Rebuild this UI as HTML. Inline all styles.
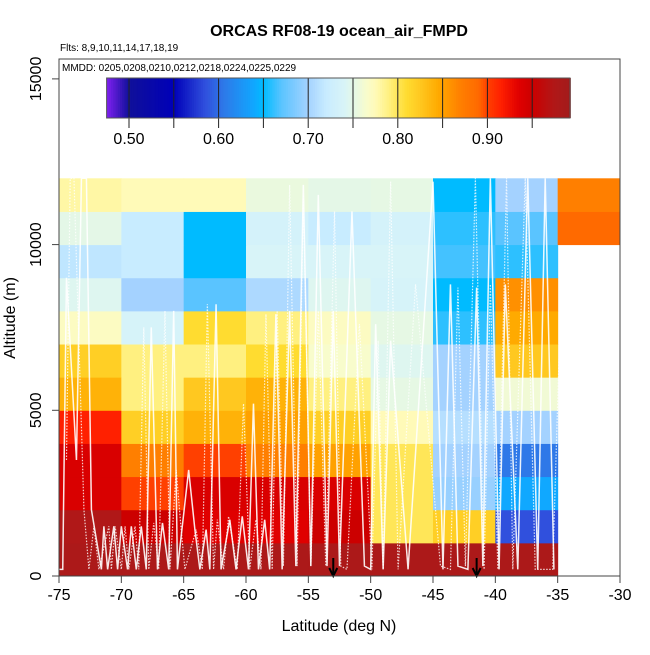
<!DOCTYPE html>
<html><head><meta charset="utf-8"><style>
body{margin:0;background:#fff}
svg text{font-family:"Liberation Sans",sans-serif}
</style></head><body>
<svg id="c" width="650" height="650" viewBox="0 0 650 650" xmlns="http://www.w3.org/2000/svg">
<text x="339" y="36" text-anchor="middle" font-size="16" font-weight="bold">ORCAS RF08-19 ocean_air_FMPD</text>
<text x="60" y="51" font-size="10">Flts: 8,9,10,11,14,17,18,19</text>
<g id="cells"></g>
<g id="tracks"></g>
<rect x="59" y="59" width="561" height="517" fill="none" stroke="#444" stroke-width="1"/>
<text x="62" y="71" font-size="10">MMDD: 0205,0208,0210,0212,0218,0224,0225,0229</text>
<g id="cbar"></g>
<g id="axes"></g>
<text x="339" y="631" text-anchor="middle" font-size="16">Latitude (deg N)</text>
<text transform="translate(15,318) rotate(-90)" text-anchor="middle" font-size="16">Altitude (m)</text>
</svg>
<script>
const lonBins=[-75,-70,-65,-60,-55,-50,-45,-40,-35];
const altBins=[0,1000,2000,3000,4000,5000,6000,7000,8000,9000,10000,11000];
const values=[
[0.98,0.98,0.98,0.98,0.98,0.98,0.98,0.98,null],
[0.975,0.95,0.935,0.935,0.95,0.80,0.82,0.585,null],
[0.94,0.90,0.94,0.94,0.94,0.80,0.695,0.64,null],
[0.94,0.87,0.90,0.87,0.85,0.80,0.70,0.605,null],
[0.915,0.82,0.84,0.85,0.82,0.775,0.71,0.70,null],
[0.84,0.79,0.825,0.84,0.79,0.752,0.70,0.76,null],
[0.82,0.79,0.79,0.81,0.765,0.745,0.70,0.825,null],
[0.77,0.738,0.81,0.79,0.77,0.752,0.66,0.845,null],
[0.745,0.70,0.67,0.705,0.745,0.738,0.65,0.86,null],
[0.715,0.72,0.65,0.74,0.74,0.74,0.665,0.66,null],
[0.75,0.72,0.65,0.735,0.72,0.735,0.66,0.67,0.89],
[0.78,0.775,0.775,0.755,0.75,0.752,0.65,0.70,0.87]
];
const xTicks=[-75,-70,-65,-60,-55,-50,-45,-40,-35,-30];
const yTicks=[0,5000,10000,15000];
const cbTicks=[0.50,0.60,0.70,0.80,0.90];
const cbLines=[0.50,0.55,0.60,0.65,0.70,0.75,0.80,0.85,0.90,0.95];
const arrowLats=[-53,-41.5];
const trackLat=[-75,-74.7,-74.4,-73.6,-73.2,-72.8,-72.4,-71.6,-71.4,-71.1,-70.6,-70.3,-70,-69.5,-69.2,-68.8,-68.4,-68,-67.6,-67.1,-66.7,-66.2,-65.8,-65.5,-64.6,-64.1,-63.7,-63.2,-62.9,-62.4,-62,-61.3,-60.8,-60.3,-59.8,-59.4,-59,-58.5,-58.1,-57.6,-57.1,-56.5,-56,-55.4,-54.8,-54.2,-53.5,-53,-52.5,-51.5,-50.5,-50,-49.6,-49,-48.4,-47,-45,-44.2,-43.6,-43,-42.2,-41.5,-41,-40.4,-39.7,-39.2,-38.2,-37.4,-36.6,-36,-35.3];
const trackAlt=[200,200,9000,3500,12000,12000,2000,200,1500,200,1500,200,1500,200,1500,200,1500,200,7500,200,1600,200,8000,200,3200,1400,200,1400,200,8200,200,1700,200,1800,200,5200,200,1700,200,7900,200,8000,300,11800,300,11500,300,8000,300,11000,300,200,7600,200,7100,200,11900,200,8800,300,200,8700,300,12000,200,8800,200,12000,200,12000,200];
const ns="http://www.w3.org/2000/svg";
const X=v=>59+(v+75)*561/45;
const Y=v=>576-v*517/15600;
const stops=[[0.475,"#8020f0"],[0.50,"#10109a"],[0.55,"#0000b8"],[0.585,"#3050dd"],[0.605,"#2e78e8"],[0.64,"#10a8ff"],[0.65,"#00bbff"],[0.67,"#5ac4ff"],[0.70,"#a4d2ff"],[0.72,"#c8ecff"],[0.74,"#d8f4f8"],[0.752,"#e6f8e4"],[0.765,"#f8fccc"],[0.775,"#fffab8"],[0.79,"#fff080"],[0.81,"#ffdc30"],[0.825,"#ffc820"],[0.845,"#ffaa00"],[0.86,"#ff9000"],[0.87,"#ff7f00"],[0.89,"#ff6a00"],[0.90,"#ff4000"],[0.915,"#ff2000"],[0.935,"#e00000"],[0.95,"#cc0000"],[0.975,"#b01818"],[0.995,"#a01c1c"]];
function hex(h){return [1,3,5].map(i=>parseInt(h.substr(i,2),16));}
function cmap(v){
 if(v<=stops[0][0])return stops[0][1];
 for(let i=1;i<stops.length;i++){if(v<=stops[i][0]){const a=hex(stops[i-1][1]),b=hex(stops[i][1]);const t=(v-stops[i-1][0])/(stops[i][0]-stops[i-1][0]);return "rgb("+a.map((x,k)=>Math.round(x+(b[k]-x)*t)).join(",")+")";}}
 return stops[stops.length-1][1];
}
function mk(tag,attrs,parent){const e=document.createElementNS(ns,tag);for(const k in attrs)e.setAttribute(k,attrs[k]);parent.appendChild(e);return e;}
const cells=document.getElementById('cells');
values.forEach((row,r)=>row.forEach((v,c)=>{
 if(v===null)return;
 const x0=X(lonBins[c]),x1=X(lonBins[c]+5),y1=Y(altBins[r]),y0=Y(altBins[r]+1000);
 const e=mk('rect',{x:x0,y:y0,width:x1-x0+0.5,height:y1-y0+0.5,fill:cmap(v)},cells);
 
 
}));
const tr=document.getElementById('tracks');
const pts=trackLat.map((l,i)=>X(l)+","+Y(trackAlt[i])).join(" ");
const p1=mk('polyline',{points:pts,fill:"none",stroke:"#fff","stroke-width":1.5,opacity:0.9},tr);


const pts2=trackLat.map((l,i)=>X(l+0.6)+","+Y(trackAlt[(i+3)%trackAlt.length])).join(" ");
const p2=mk('polyline',{points:pts2,fill:"none",stroke:"#fff","stroke-width":1.2,"stroke-dasharray":"1.5 1.5",opacity:0.8},tr);


arrowLats.forEach(l=>{
 const g=mk('g',{},tr);
 
 
 mk('line',{x1:X(l),y1:558,x2:X(l),y2:575,stroke:"#000","stroke-width":2},g);
 mk('polyline',{points:(X(l)-4)+",568 "+X(l)+",576 "+(X(l)+4)+",568",fill:"none",stroke:"#000","stroke-width":2},g);
});
const ax=document.getElementById('axes');
xTicks.forEach(t=>{
 mk('line',{x1:X(t),y1:576,x2:X(t),y2:583,stroke:"#444"},ax);
 const e=mk('text',{x:X(t),y:600,"text-anchor":"middle","font-size":"16"},ax);e.textContent=t;
 
 
});
yTicks.forEach(t=>{
 mk('line',{x1:52,y1:Y(t),x2:59,y2:Y(t),stroke:"#444"},ax);
 const e=mk('text',{transform:"translate(41,"+Y(t)+") rotate(-90)","text-anchor":"middle","font-size":"16"},ax);e.textContent=t;
 
 
});
const cb=document.getElementById('cbar');
const CX=v=>129+(v-0.5)*896;
for(let v=0.475;v<0.99;v+=0.0025){mk('rect',{x:CX(v),y:78,width:2.8,height:40,fill:cmap(v+0.00125)},cb);}
cbLines.forEach(v=>{mk('line',{x1:CX(v),y1:78,x2:CX(v),y2:128,stroke:"#222","stroke-width":1},cb);});
mk('rect',{x:CX(0.475),y:78,width:CX(0.99)-CX(0.475)+2,height:40,fill:"none",stroke:"#555"},cb);
cbTicks.forEach(v=>{const e=mk('text',{x:CX(v),y:144,"text-anchor":"middle","font-size":"16"},cb);e.textContent=v.toFixed(2);
 
 });
</script>
</body></html>
